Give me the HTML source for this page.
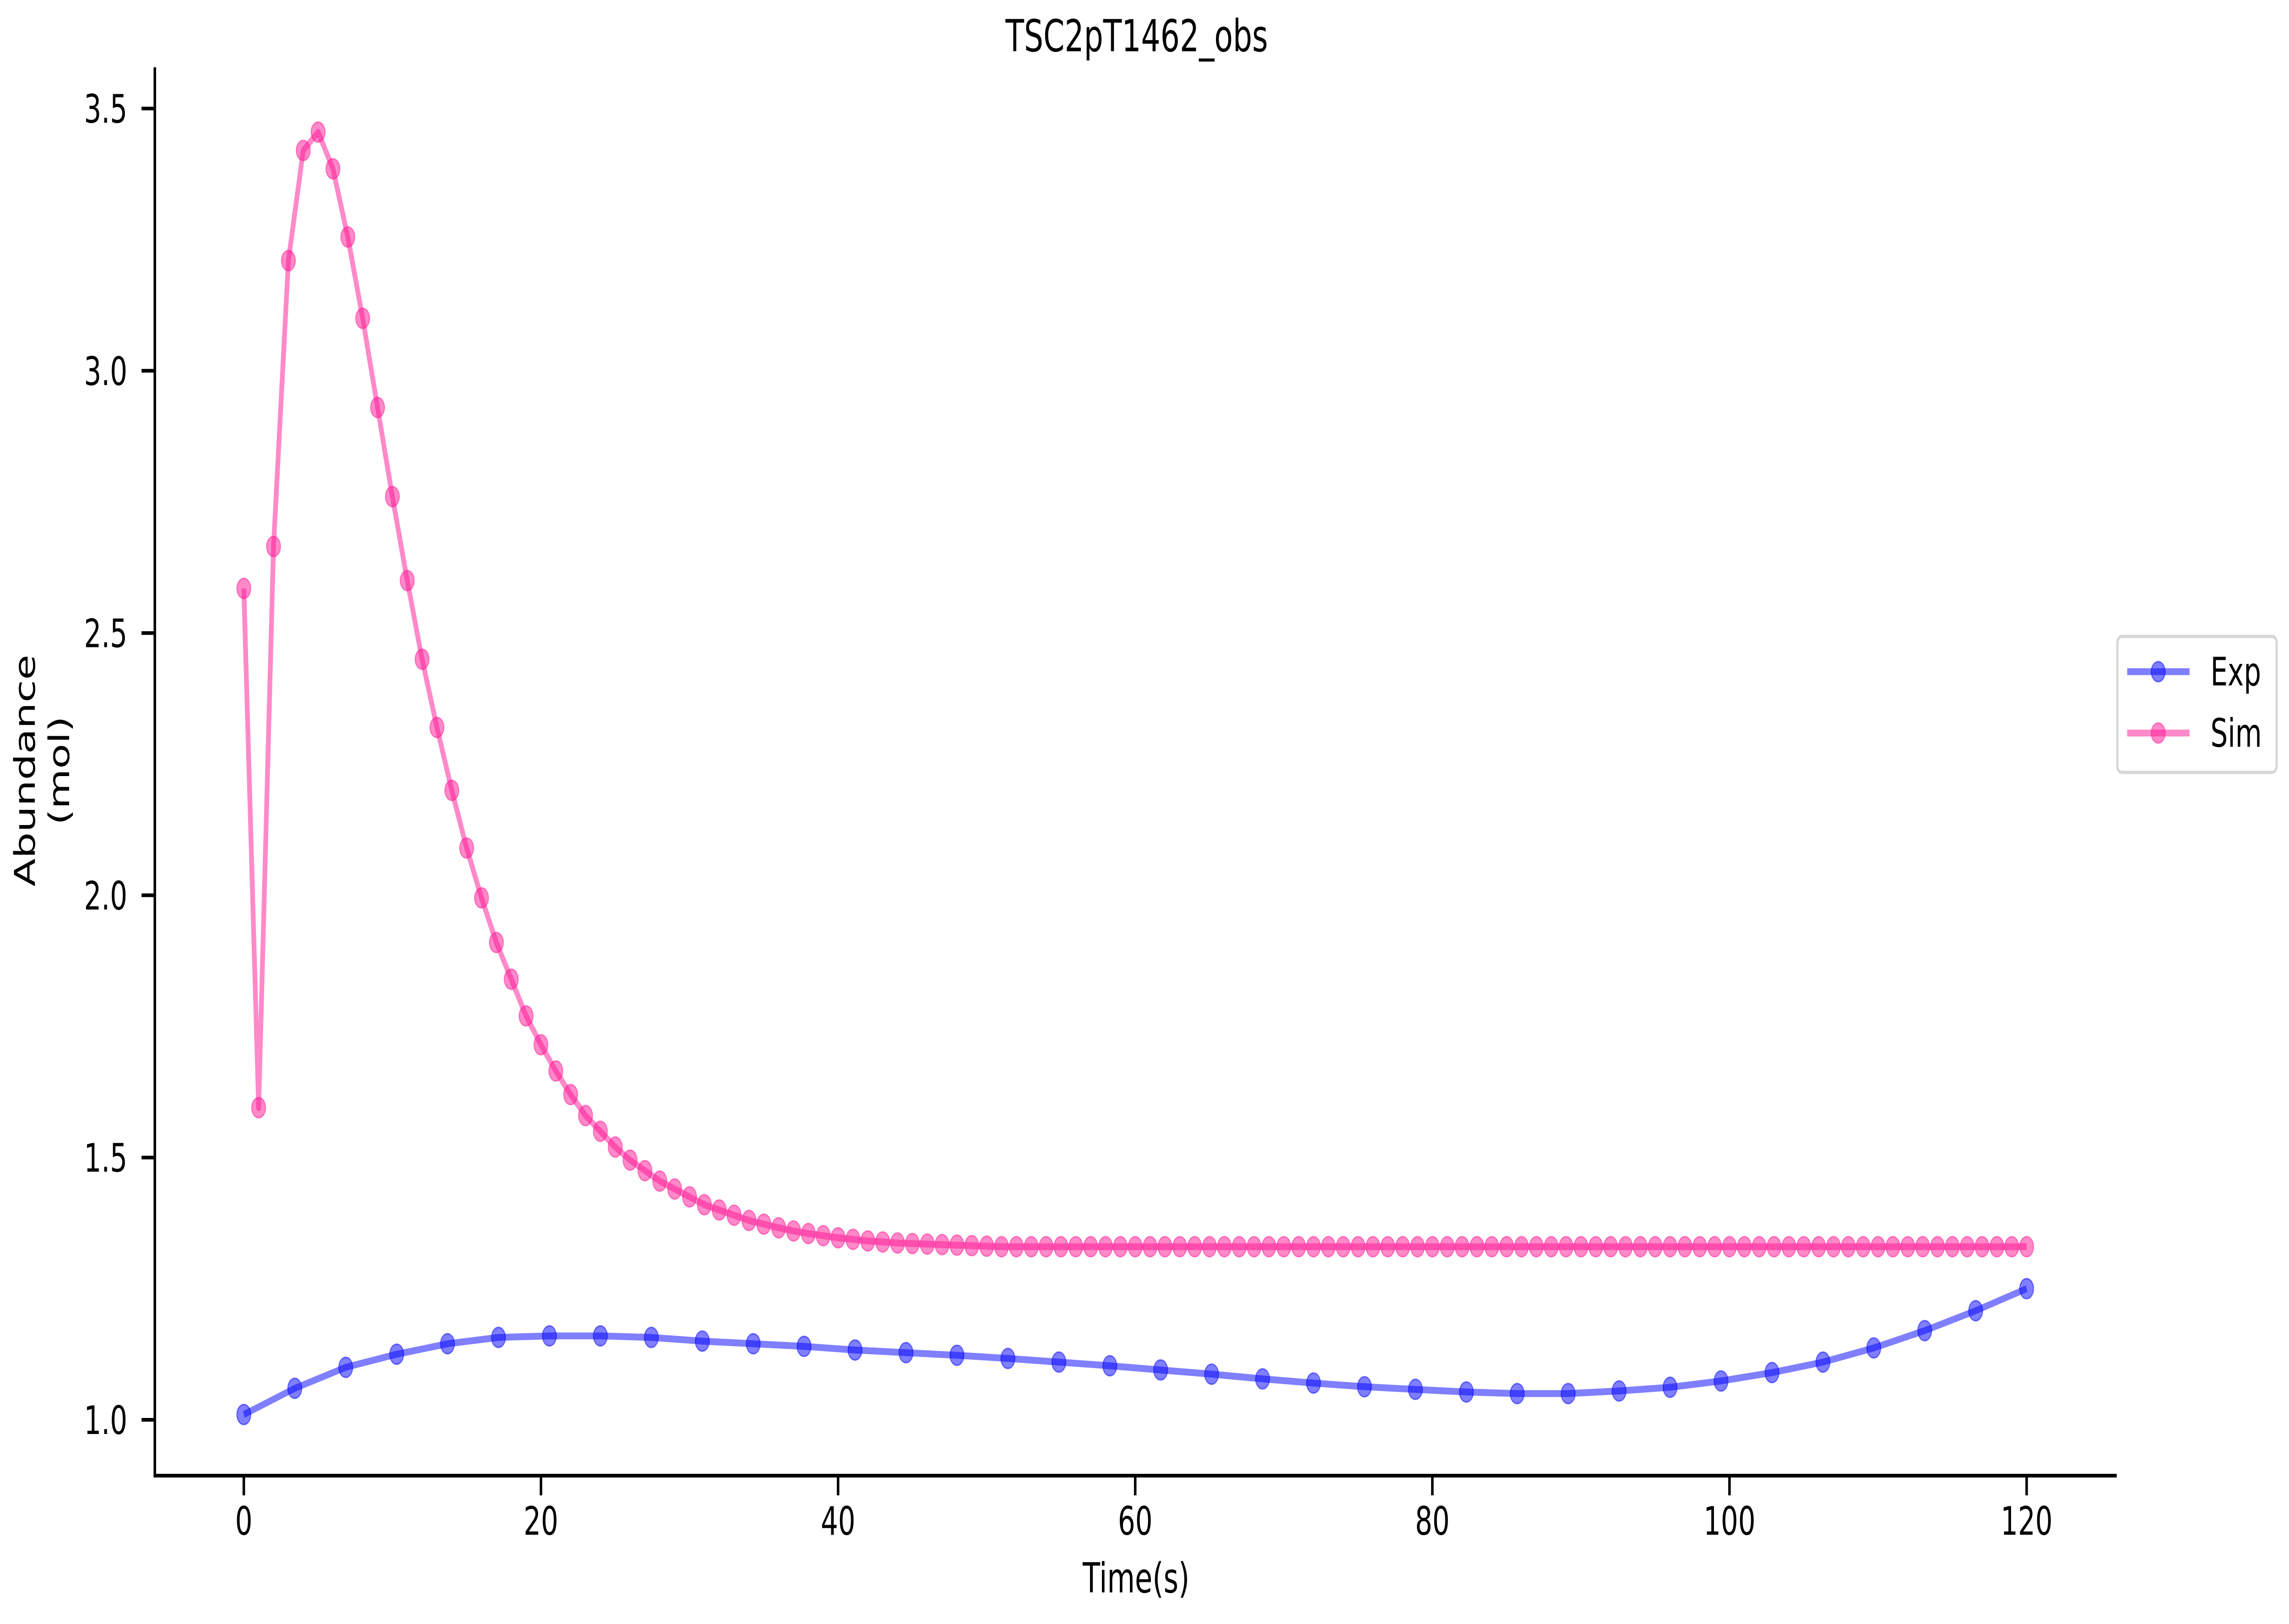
<!DOCTYPE html>
<html><head><meta charset="utf-8"><style>
html,body{margin:0;padding:0;background:#fff;width:100%;height:100%;overflow:hidden;}
svg{display:block;width:100vw;height:100vh;font-family:"DejaVu Sans","Liberation Sans",sans-serif;}
</style></head><body>
<svg id="chart" viewBox="0 0 7229 3547" preserveAspectRatio="none" xmlns="http://www.w3.org/2000/svg">
<text x="3590" y="112" font-size="96" text-anchor="middle">TSC2pT1462_obs</text>
<g id="plot"></g>
<g id="axes"></g>
<text x="3588" y="3478" font-size="90" text-anchor="middle">Time(s)</text>
<text transform="translate(110,1683) rotate(-90)" font-size="90" text-anchor="middle">Abundance</text>
<text transform="translate(218,1683) rotate(-90)" font-size="90" text-anchor="middle">(mol)</text>
<g>
<rect x="6687" y="1390" width="503" height="297" rx="14" fill="#fff" stroke="#d6d6d6" stroke-width="7"/>
<g>
<line x1="6718" y1="1467" x2="6915" y2="1467" stroke="rgba(0,0,255,0.5)" stroke-width="15"/>
<circle cx="6816" cy="1467" r="22" fill="rgba(0,0,255,0.5)" stroke="rgba(0,0,255,0.5)" stroke-width="3"/>
<text x="6981" y="1497" font-size="86">Exp</text>
</g>
<g>
<line x1="6718" y1="1601" x2="6915" y2="1601" stroke="rgba(255,20,147,0.5)" stroke-width="15"/>
<circle cx="6816" cy="1601" r="22" fill="rgba(255,20,147,0.5)" stroke="rgba(255,20,147,0.5)" stroke-width="3"/>
<text x="6981" y="1631" font-size="86">Sim</text>
</g>
</g>
</svg>
<script>
const expTimes = [0,3.43,6.86,10.29,13.71,17.14,20.57,24,27.43,30.86,34.29,37.71,41.14,44.57,48,51.43,54.86,58.29,61.71,65.14,68.57,72,75.43,78.86,82.29,85.71,89.14,92.57,96,99.43,102.86,106.29,109.71,113.14,116.57,120];
const expValues = [1.01,1.06,1.10,1.125,1.145,1.157,1.16,1.16,1.157,1.15,1.145,1.14,1.133,1.128,1.123,1.117,1.11,1.103,1.095,1.087,1.078,1.07,1.063,1.058,1.053,1.05,1.05,1.055,1.062,1.074,1.09,1.11,1.137,1.17,1.208,1.25];
const simValues = [2.585,1.595,2.665,3.21,3.42,3.455,3.385,3.255,3.10,2.93,2.76,2.60,2.45,2.32,2.20,2.09,1.995,1.91,1.84,1.77,1.715,1.665,1.62,1.58,1.55,1.52,1.495,1.475,1.455,1.44,1.425,1.41,1.40,1.39,1.38,1.373,1.366,1.36,1.355,1.351,1.347,1.344,1.341,1.339,1.337,1.336,1.335,1.334,1.333,1.332,1.331,
1.33,1.33,1.33,1.33,1.33,1.33,1.33,1.33,1.33,1.33,1.33,1.33,1.33,1.33,1.33,1.33,1.33,1.33,1.33,1.33,
1.33,1.33,1.33,1.33,1.33,1.33,1.33,1.33,1.33,1.33,1.33,1.33,1.33,1.33,1.33,1.33,1.33,1.33,1.33,1.33,
1.33,1.33,1.33,1.33,1.33,1.33,1.33,1.33,1.33,1.33,1.33,1.33,1.33,1.33,1.33,1.33,1.33,1.33,1.33,1.33,
1.33,1.33,1.33,1.33,1.33,1.33,1.33,1.33,1.33,1.33];
const xTicks = [0,20,40,60,80,100,120];
const yTicks = [1.0,1.5,2.0,2.5,3.0,3.5];
const yTickLabels = ["1.0","1.5","2.0","2.5","3.0","3.5"];

const NS = "http://www.w3.org/2000/svg";
const X = t => 770 + t * 46.92;
const Y = v => 3101 - (v - 1) * 1145.6;
function mk(tag, attrs, parent) {
  const e = document.createElementNS(NS, tag);
  for (const k in attrs) e.setAttribute(k, attrs[k]);
  parent.appendChild(e);
  return e;
}
const plot = document.getElementById('plot');
const axes = document.getElementById('axes');

function series(ts, vs, color, name) {
  const g = mk('g', {}, plot);
  
  
  const pts = ts.map((t, i) => X(t).toFixed(1) + ',' + Y(vs[i]).toFixed(1)).join(' ');
  const pl = mk('polyline', {points: pts, fill: 'none', stroke: color, 'stroke-width': 15, 'stroke-linejoin': 'round'}, g);
  
  
  ts.forEach((t, i) => {
    const c = mk('circle', {cx: X(t), cy: Y(vs[i]), r: 22, fill: color, stroke: color, 'stroke-width': 3}, g);
    
    
  });
}
series(expTimes, expValues, 'rgba(0,0,255,0.5)', 'exp');
series(simValues.map((v, i) => i), simValues, 'rgba(255,20,147,0.5)', 'sim');

const ya = mk('line', {x1: 489, y1: 147, x2: 489, y2: 3226, stroke: '#000', 'stroke-width': 8}, axes);


const xa = mk('line', {x1: 485, y1: 3223, x2: 6685, y2: 3223, stroke: '#000', 'stroke-width': 8}, axes);


xTicks.forEach(t => {
  const l = mk('line', {x1: X(t), y1: 3223, x2: X(t), y2: 3266, stroke: '#000', 'stroke-width': 8}, axes);
  
  
  const tx = mk('text', {x: X(t), y: 3352, 'font-size': 86, 'text-anchor': 'middle'}, axes);
  tx.textContent = String(t);
  
  
});
yTicks.forEach((v, i) => {
  const l = mk('line', {x1: 447, y1: Y(v), x2: 489, y2: Y(v), stroke: '#000', 'stroke-width': 8}, axes);
  
  
  const tx = mk('text', {x: 402, y: Y(v) + 31, 'font-size': 86, 'text-anchor': 'end'}, axes);
  tx.textContent = yTickLabels[i];
  
  
});
</script>
</body></html>
